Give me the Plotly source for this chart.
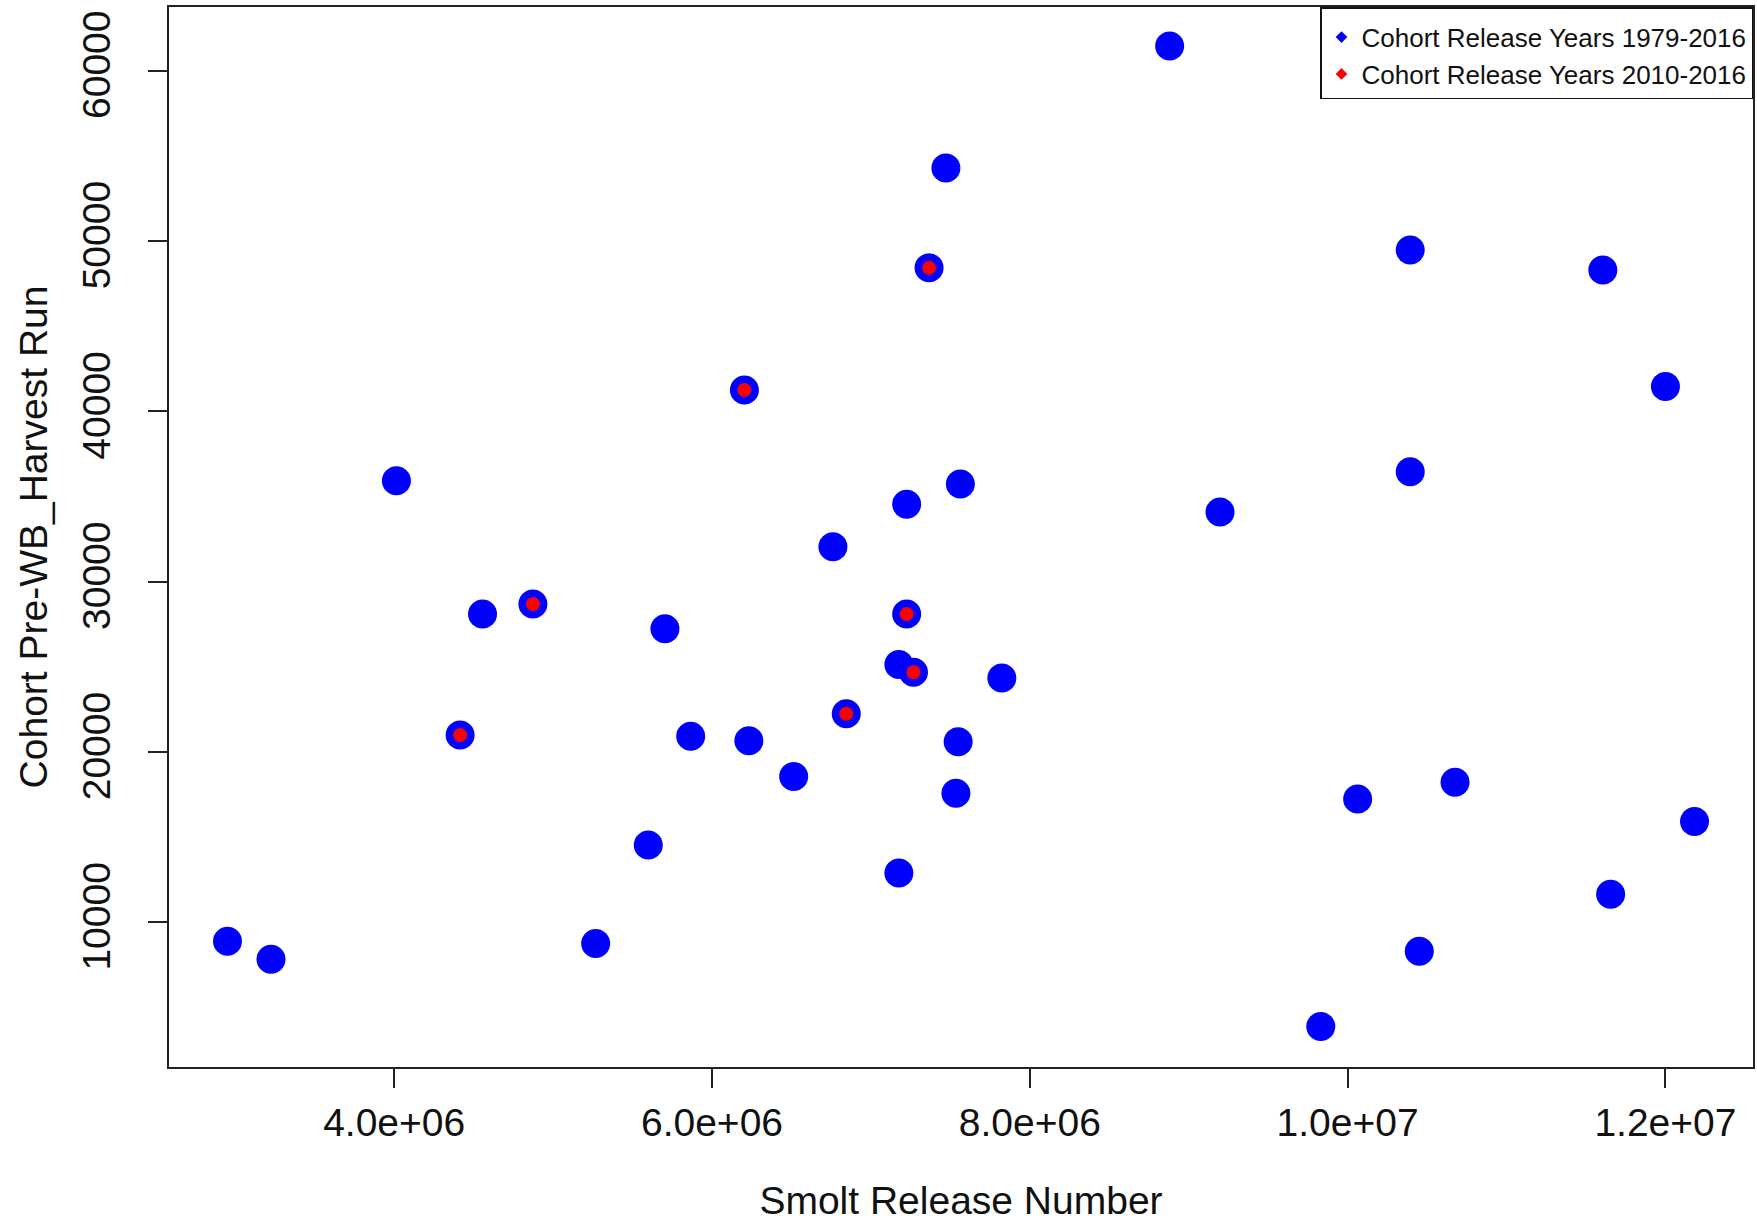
import plotly.graph_objects as go

# Smolt release number (x) and cohort pre-WB harvest run (y), all cohorts 1979-2016
smolt_all = [8.880e6, 7.472e6, 7.366e6, 10.394e6, 11.606e6, 12.000e6, 6.204e6, 4.014e6,
             7.563e6, 10.394e6, 7.225e6, 9.197e6, 6.761e6, 4.873e6, 4.556e6, 7.225e6,
             5.704e6, 7.176e6, 7.268e6, 7.824e6, 4.415e6, 5.866e6, 6.232e6, 6.845e6,
             7.549e6, 6.514e6, 10.676e6, 7.535e6, 10.063e6, 12.183e6, 5.599e6, 7.176e6,
             11.655e6, 2.951e6, 3.225e6, 5.268e6, 10.451e6, 9.831e6]
run_all = [61447, 54276, 48421, 49474, 48289, 41447, 41250, 35921,
           35724, 36447, 34539, 34079, 32039, 28684, 28092, 28092,
           27237, 25132, 24671, 24342, 20987, 20921, 20658, 22237,
           20592, 18553, 18224, 17566, 17237, 15921, 14539, 12895,
           11645, 8882, 7829, 8750, 8289, 3882]

# Cohorts 2010-2016
smolt_recent = [7.366e6, 6.204e6, 4.873e6, 7.225e6, 7.268e6, 4.415e6, 6.845e6]
run_recent = [48421, 41250, 28684, 28092, 24671, 20987, 22237]

x_ticks = [4e6, 6e6, 8e6, 10e6, 12e6]
x_tick_labels = ["4.0e+06", "6.0e+06", "8.0e+06", "1.0e+07", "1.2e+07"]
y_ticks = [10000, 20000, 30000, 40000, 50000, 60000]
y_tick_labels = ["10000", "20000", "30000", "40000", "50000", "60000"]

legend_labels = ["Cohort Release Years 1979-2016", "Cohort Release Years 2010-2016"]

FONT = "Liberation Sans, Arial, sans-serif"

fig = go.Figure()
fig.add_trace(go.Scatter(x=smolt_all, y=run_all, mode="markers",
                         marker=dict(color="#0000FF", size=29, line=dict(width=0)),
                         showlegend=False, hoverinfo="x+y"))
fig.add_trace(go.Scatter(x=smolt_recent, y=run_recent, mode="markers",
                         marker=dict(color="#FF0000", size=14, line=dict(width=0)),
                         showlegend=False, hoverinfo="x+y"))
# legend entries (diamond symbols as in the original legend)
fig.add_trace(go.Scatter(x=[None], y=[None], mode="markers", name=legend_labels[0],
                         marker=dict(color="#0000FF", size=9, symbol="diamond")))
fig.add_trace(go.Scatter(x=[None], y=[None], mode="markers", name=legend_labels[1],
                         marker=dict(color="#FF0000", size=9, symbol="diamond")))

axis_common = dict(showgrid=False, zeroline=False, showline=True, linecolor="#222222",
                   linewidth=2, mirror=True, ticks="outside", ticklen=19, tickwidth=1.5,
                   tickcolor="#222222", tickfont=dict(family=FONT, size=39, color="#111111"))

fig.update_layout(
    width=1757, height=1222,
    margin=dict(l=169, r=2, t=7, b=155, pad=0),
    paper_bgcolor="white", plot_bgcolor="white",
    font=dict(family=FONT, color="#111111"),
    xaxis=dict(range=[2.583e6, 12.551e6], tickvals=x_ticks, ticktext=x_tick_labels,
               title=dict(text="Smolt Release Number", font=dict(family=FONT, size=39),
                          standoff=45),
               ticklabelstandoff=1,
               **axis_common),
    yaxis=dict(range=[1500, 63735], tickvals=y_ticks, ticktext=y_tick_labels,
               tickangle=-90,
               title=dict(text="Cohort Pre-WB_Harvest Run", font=dict(family=FONT, size=39),
                          standoff=16),
               ticklabelstandoff=22,
               **axis_common),
    legend=dict(x=1, y=1, xanchor="right", yanchor="top", bgcolor="white",
                bordercolor="#111111", borderwidth=1.5,
                font=dict(family=FONT, size=26, color="#111111"),
                title=dict(text=" ", font=dict(size=4)),
                itemsizing="trace", tracegroupgap=0),
)

fig.write_html("out.html")
